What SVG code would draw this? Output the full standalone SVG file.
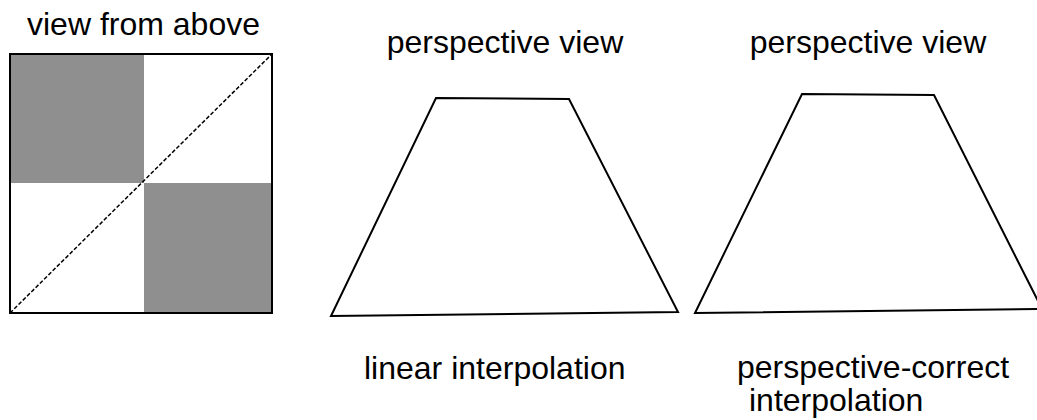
<svg xmlns="http://www.w3.org/2000/svg" width="1037" height="420" viewBox="0 0 1037 420">
<style>
.t{font-family:"Liberation Sans",Arial,sans-serif;font-size:32px;fill:#000}
.edge{fill:none;stroke:#000;stroke-width:2;stroke-linejoin:miter}
.gray{fill:#8f8f8f}
</style>
<rect width="1037" height="420" fill="#fff"/>
<g id="top-view">
<rect class="gray" x="10" y="54" width="134" height="129"/>
<rect class="gray" x="144" y="183" width="128" height="130"/>
<rect class="edge" x="10" y="54" width="262" height="259"/>
<line x1="10" y1="313" x2="272" y2="54" stroke="#000" stroke-width="1.5" stroke-dasharray="4 2"/>
<text class="t" x="143.5" y="35" text-anchor="middle">view from above</text>
</g>
<g id="linear">
<polygon class="edge" points="436,98 569,99 678,312 331,316"/>
<text class="t" x="505" y="53" text-anchor="middle">perspective view</text>
<text class="t" x="364" y="379">linear interpolation</text>
</g>
<g id="correct">
<polygon class="edge" points="802,94 934,95 1042,309 695,313"/>
<text class="t" x="868" y="53" text-anchor="middle">perspective view</text>
<text class="t" x="737" y="378">perspective-correct</text>
<text class="t" x="749" y="411">interpolation</text>
</g>
<g id="connectors"></g>
</svg>
